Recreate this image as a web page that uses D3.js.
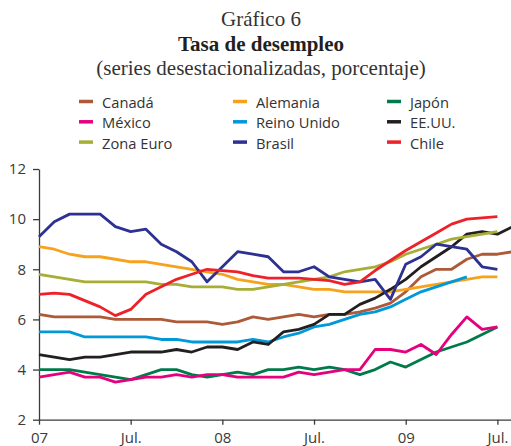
<!DOCTYPE html>
<html>
<head>
<meta charset="utf-8">
<script src="https://d3js.org/d3.v7.min.js"></script>
<style>
  body { margin: 0; background: #fff; }
</style>
</head>
<body>

<div id="my_dataviz"></div>

<script>

// monthly data, Jan 2007 onwards
var monthTicks = [0, 6, 12, 18, 24, 30]
var tickLabels = ["07", "Jul.", "08", "Jul.", "09", "Jul."]
var yTicks = [2, 4, 6, 8, 10, 12]

var canada   = [6.2,6.1,6.1,6.1,6.1,6.0,6.0,6.0,6.0,5.9,5.9,5.9,5.8,5.9,6.1,6.0,6.1,6.2,6.1,6.2,6.2,6.3,6.45,6.65,7.1,7.7,8.0,8.0,8.4,8.6,8.6,8.7]
var alemania = [8.9,8.8,8.6,8.5,8.5,8.4,8.3,8.3,8.2,8.1,8.0,7.9,7.8,7.6,7.5,7.4,7.4,7.3,7.2,7.2,7.1,7.1,7.1,7.1,7.2,7.3,7.4,7.5,7.6,7.7,7.7]
var japon    = [4.0,4.0,4.0,3.9,3.8,3.7,3.6,3.8,4.0,4.0,3.8,3.7,3.8,3.9,3.8,4.0,4.0,4.1,4.0,4.1,4.0,3.8,4.0,4.3,4.1,4.4,4.7,4.9,5.1,5.4,5.7]
var mexico   = [3.7,3.8,3.9,3.7,3.7,3.5,3.6,3.7,3.7,3.8,3.7,3.8,3.8,3.7,3.7,3.7,3.7,3.9,3.8,3.9,4.0,4.0,4.8,4.8,4.7,5.0,4.6,5.4,6.1,5.6,5.7]
var reino    = [5.5,5.5,5.5,5.3,5.3,5.3,5.3,5.3,5.2,5.2,5.1,5.1,5.1,5.1,5.2,5.1,5.3,5.45,5.7,5.8,6.0,6.2,6.3,6.5,6.8,7.1,7.3,7.5,7.7]
var eeuu     = [4.6,4.5,4.4,4.5,4.5,4.6,4.7,4.7,4.7,4.8,4.7,4.9,4.9,4.8,5.1,5.0,5.5,5.6,5.8,6.2,6.2,6.6,6.85,7.2,7.6,8.1,8.5,8.9,9.4,9.5,9.4,9.7]
var zonaEuro = [7.8,7.7,7.6,7.5,7.5,7.5,7.5,7.5,7.4,7.4,7.3,7.3,7.3,7.2,7.2,7.3,7.4,7.5,7.6,7.7,7.9,8.0,8.1,8.3,8.6,8.8,9.0,9.2,9.3,9.4,9.5]
var brasil   = [9.3,9.9,10.2,10.2,10.2,9.7,9.5,9.6,9.0,8.7,8.3,7.5,8.1,8.7,8.6,8.5,7.9,7.9,8.1,7.7,7.6,7.5,7.6,6.8,8.2,8.5,9.0,8.9,8.8,8.1,8.0]
var chile    = [7.0,7.05,7.0,6.75,6.5,6.15,6.4,7.0,7.3,7.6,7.8,8.0,7.95,7.9,7.75,7.65,7.65,7.65,7.6,7.55,7.4,7.5,7.95,8.35,8.75,9.1,9.45,9.8,10.0,10.05,10.1]

// legend order (row by row) and colours
var names  = ["Canadá", "Alemania", "Japón", "México", "Reino Unido", "EE.UU.", "Zona Euro", "Brasil", "Chile"]
var colors = ["#ad5a38", "#f7a21c", "#007a4a", "#e5007d", "#0098d8", "#231f20", "#a6ae36", "#2d3191", "#ee2129"]
var values = [canada, alemania, japon, mexico, reino, eeuu, zonaEuro, brasil, chile]

var series = names.map(function(n, i) {
  return { name: n, color: colors[i], values: values[i] }
})

var width = 511, height = 446

var svg = d3.select("#my_dataviz")
  .append("svg")
    .attr("width", width)
    .attr("height", height)
    .style("display", "block")

// titles
var serif = "'Liberation Serif', 'Times New Roman', serif"
svg.append("text")
  .attr("x", 261).attr("y", 26)
  .attr("text-anchor", "middle")
  .style("font-family", serif).style("font-size", "21px").style("fill", "#333")
  .text("Gráfico 6")
svg.append("text")
  .attr("x", 261).attr("y", 51)
  .attr("text-anchor", "middle")
  .style("font-family", serif).style("font-size", "21px").style("font-weight", "bold").style("fill", "#231f20")
  .text("Tasa de desempleo")
svg.append("text")
  .attr("x", 261).attr("y", 75)
  .attr("text-anchor", "middle")
  .style("font-family", serif).style("font-size", "21px").style("fill", "#333")
  .text("(series desestacionalizadas, porcentaje)")

// legend, 3 columns
var sans = "'Open Sans', 'Noto Sans', sans-serif"
var legend = svg.selectAll("myLegend")
  .data(series)
  .enter()
  .append("g")
    .attr("transform", function(d, i) {
      return "translate(" + (79 + (i % 3) * 154) + "," + (108 + Math.floor(i / 3) * 20.3) + ")"
    })
legend.append("line")
  .attr("x1", 0).attr("x2", 14)
  .attr("y1", -6.5).attr("y2", -6.5)
  .style("stroke", function(d) { return d.color })
  .style("stroke-width", 3.5)
legend.append("text")
  .attr("x", 23)
  .style("font-family", sans).style("font-size", "14.7px").style("fill", "#333")
  .text(function(d) { return d.name })

// scales
var x = d3.scaleLinear()
  .domain([0, 31])
  .range([39, 39 + 31 * 15.28])

var y = d3.scaleLinear()
  .domain([2, 12])
  .range([419.7, 169])

// axes
svg.append("g")
  .attr("transform", "translate(0," + y(2) + ")")
  .call(d3.axisBottom(x)
    .tickValues(monthTicks)
    .tickFormat(function(d, i) { return tickLabels[i] })
    .tickSizeInner(5).tickSizeOuter(0).tickPadding(8))

svg.append("g")
  .attr("transform", "translate(" + x(0) + ",0)")
  .call(d3.axisLeft(y)
    .tickValues(yTicks)
    .tickSizeInner(6).tickSizeOuter(0).tickPadding(7))

svg.selectAll(".domain, .tick line")
  .style("stroke", "#3a3a3a")
  .style("stroke-width", 1.3)
svg.selectAll(".tick text")
  .style("font-family", sans)
  .style("font-size", "15px")
  .style("fill", "#3a3a3a")

// the lines
var line = d3.line()
  .x(function(d, i) { return x(i) })
  .y(function(d) { return y(d) })

svg.selectAll("myLines")
  .data(series)
  .enter()
  .append("path")
    .attr("d", function(d) { return line(d.values) })
    .style("stroke", function(d) { return d.color })
    .style("stroke-width", 2.8)
    .style("stroke-linejoin", "round")
    .style("fill", "none")

</script>
</body>
</html>
